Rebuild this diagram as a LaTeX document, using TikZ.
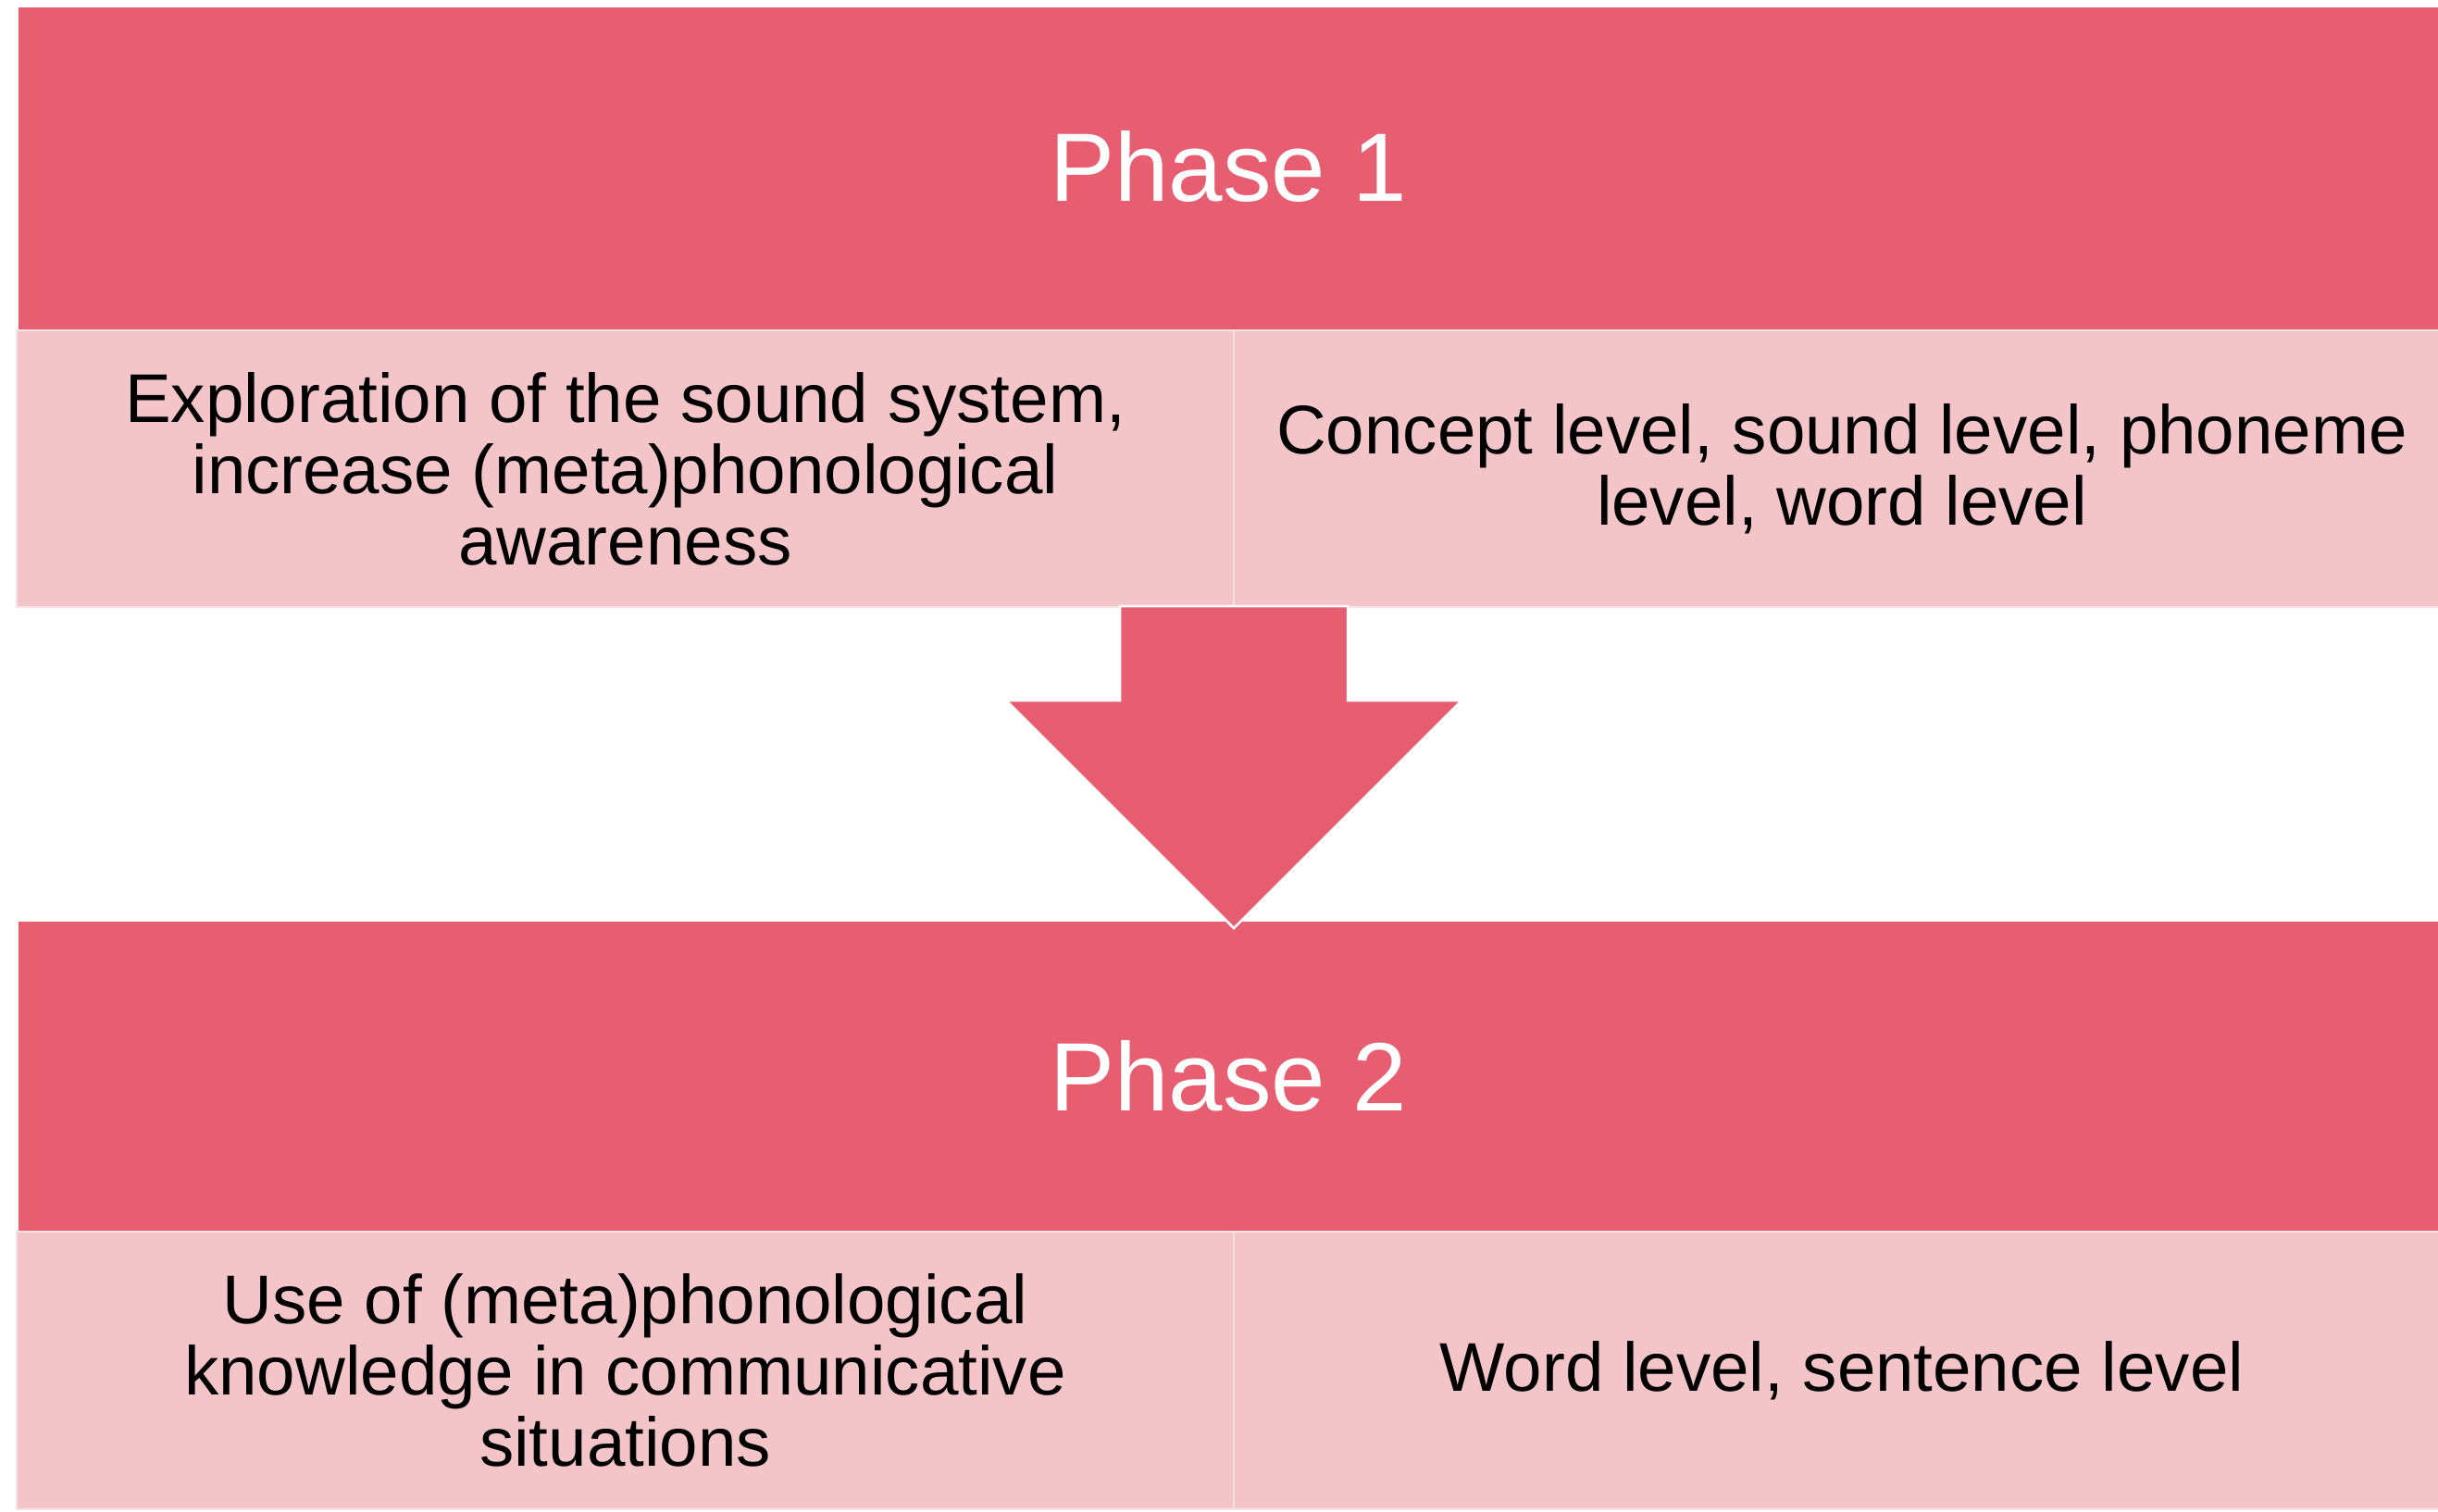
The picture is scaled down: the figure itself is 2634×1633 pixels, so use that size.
\documentclass[tikz,border=0pt]{standalone}
\usepackage{fontspec}
\setmainfont{Liberation Sans}
\definecolor{hdr}{HTML}{E85E71}
\definecolor{cell}{HTML}{F3C4C8}
\begin{document}
\begin{tikzpicture}[x=1pt,y=-1pt,
  hdrbox/.style={rectangle, fill=hdr, draw=none, inner sep=0pt, anchor=north west, text=white, font=\fontsize{105}{110}\selectfont},
  cellbox/.style={rectangle, fill=cell, draw=cell!50!white, line width=2pt, inner sep=0pt, anchor=north west, align=center, text=black, font=\fontsize{74.5}{77}\selectfont},
  blockarrow/.style={fill=hdr, draw=white, line width=2.5pt, line join=miter}
]
\useasboundingbox (0,0) rectangle (2634,1633);
% Phase 1
\node[hdrbox, minimum width=2614pt, minimum height=348pt] (h1) at (20,8) {\raisebox{5pt}{Phase 1}};
\node[cellbox, minimum width=1315pt, minimum height=299pt] (c1l) at (17,356) {Exploration of the sound system,\\increase (meta)phonological\\awareness};
\node[cellbox, minimum width=1302pt, minimum height=299pt] (c1r) at (1332,356) {\hspace*{12pt}Concept level, sound level, phoneme\\\hspace*{12pt}level, word level};
% Phase 2
\node[hdrbox, minimum width=2614pt, minimum height=334pt] (h2) at (20,996) {Phase 2};
\node[cellbox, minimum width=1315pt, minimum height=300pt] (c2l) at (17,1330) {Use of (meta)phonological\\knowledge in communicative\\situations};
\node[cellbox, minimum width=1302pt, minimum height=300pt] (c2r) at (1332,1330) {\hspace*{12pt}Word level, sentence level};
% block arrow
\draw[blockarrow] (1210,655) -- (1456,655) -- (1456,757) -- (1579,757) -- (1333,1003) -- (1087,757) -- (1210,757) -- cycle;
\end{tikzpicture}
\end{document}
